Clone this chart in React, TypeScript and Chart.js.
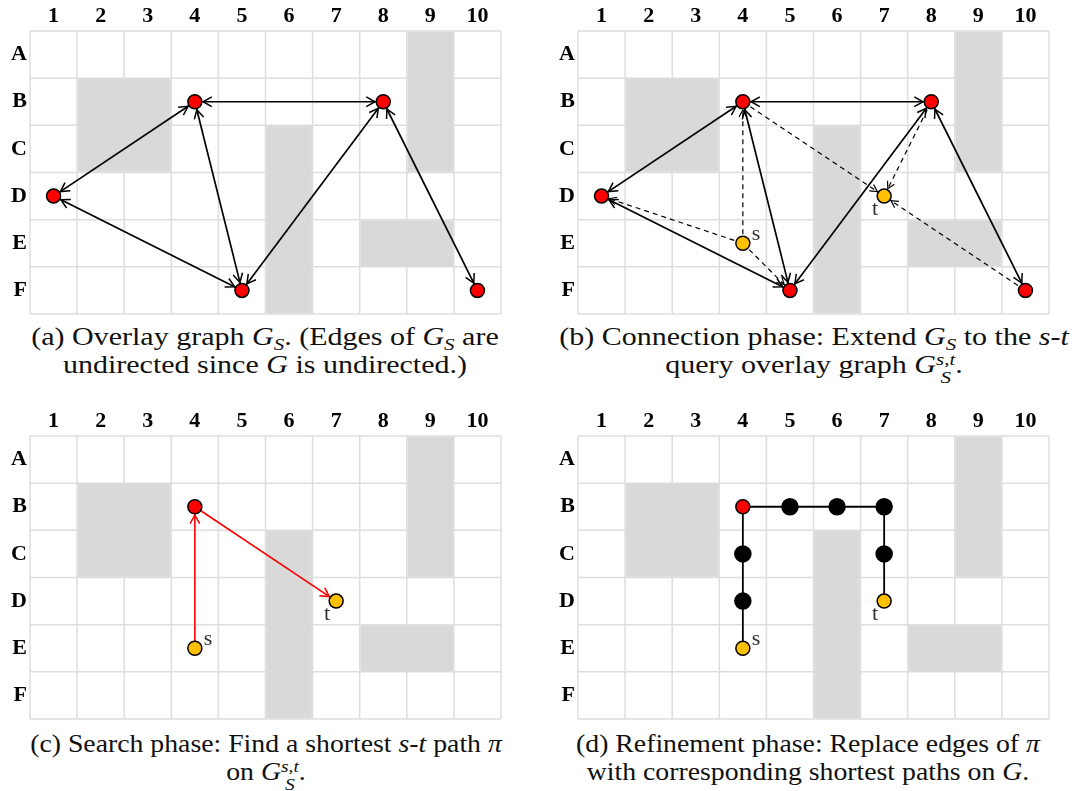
import React, { useEffect, useRef } from 'react';
import { Chart, registerables } from 'chart.js';

Chart.register(...registerables);

// Grid labels
const colLabels = ['1', '2', '3', '4', '5', '6', '7', '8', '9', '10'];
const rowLabels = ['A', 'B', 'C', 'D', 'E', 'F'];

// Blocked cells, as inclusive ranges "from:to"
const obstacleRanges = ['B2:C3', 'C6:F6', 'A9:C9', 'E8:E9'];

// Overlay graph G_S
const overlayNodes = ['B4', 'B8', 'D1', 'F5', 'F10'];
const overlayEdges = [
  ['D1', 'B4'],
  ['B4', 'B8'],
  ['B4', 'F5'],
  ['D1', 'F5'],
  ['F5', 'B8'],
  ['B8', 'F10'],
];

// Query endpoints
const sourceCell = 'E4';
const targetCell = 'D7';

// Connection edges of the s-t query overlay graph
const connectionEdges = [
  ['E4', 'B4'],
  ['E4', 'D1'],
  ['E4', 'F5'],
  ['B4', 'D7'],
  ['B8', 'D7'],
  ['F10', 'D7'],
];

// Shortest path on the overlay graph and its refinement on the grid
const searchPath = ['E4', 'B4', 'D7'];
const refinedPath = ['E4', 'D4', 'C4', 'B4', 'B5', 'B6', 'B7', 'C7', 'D7'];

const RED = '#ff0000';
const YELLOW = '#ffc000';
const BLACK = '#000000';

const SERIF = '"Liberation Serif", "Times New Roman", Tinos, "DejaVu Serif", serif';

const GRID_W = 471;
const GRID_H = 283;
const AXIS_W = 30;
const AXIS_H = 31;
const CANVAS_W = 520;
const CANVAS_H = 320;

type Pt = { x: number; y: number };

function cell(ref: string): Pt {
  return { x: parseInt(ref.slice(1), 10), y: rowLabels.indexOf(ref[0]) + 1 };
}

type NodeSpec = { ref: string; color: string; radius: number };
type EdgeSpec = {
  from: string;
  to: string;
  color: string;
  width: number;
  dash: number[];
  heads: 'none' | 'end' | 'both';
};
type PanelSpec = { nodes: NodeSpec[]; edges: EdgeSpec[]; showST: boolean };

const overlayEdgeSpecs: EdgeSpec[] = overlayEdges.map(([a, b]) => ({
  from: a,
  to: b,
  color: BLACK,
  width: 1.7,
  dash: [],
  heads: 'both',
}));

const panelA: PanelSpec = {
  nodes: overlayNodes.map((r) => ({ ref: r, color: RED, radius: 7 })),
  edges: overlayEdgeSpecs,
  showST: false,
};

const panelB: PanelSpec = {
  nodes: [
    ...overlayNodes.map((r) => ({ ref: r, color: RED, radius: 7 })),
    { ref: sourceCell, color: YELLOW, radius: 7 },
    { ref: targetCell, color: YELLOW, radius: 7 },
  ],
  edges: [
    ...overlayEdgeSpecs,
    ...connectionEdges.map(([a, b]) => ({
      from: a,
      to: b,
      color: BLACK,
      width: 1.2,
      dash: [5, 4],
      heads: 'end' as const,
    })),
  ],
  showST: true,
};

const panelC: PanelSpec = {
  nodes: searchPath.map((r) => ({
    ref: r,
    color: r === sourceCell || r === targetCell ? YELLOW : RED,
    radius: 7,
  })),
  edges: searchPath.slice(1).map((r, i) => ({
    from: searchPath[i],
    to: r,
    color: RED,
    width: 1.6,
    dash: [],
    heads: 'end' as const,
  })),
  showST: true,
};

const panelD: PanelSpec = {
  nodes: refinedPath.map((r) => ({
    ref: r,
    color:
      r === sourceCell || r === targetCell ? YELLOW : overlayNodes.includes(r) ? RED : BLACK,
    radius: r === sourceCell || r === targetCell || overlayNodes.includes(r) ? 7 : 8,
  })),
  edges: refinedPath.slice(1).map((r, i) => ({
    from: refinedPath[i],
    to: r,
    color: BLACK,
    width: 1.8,
    dash: [],
    heads: 'none' as const,
  })),
  showST: true,
};

function drawHead(
  ctx: CanvasRenderingContext2D,
  fx: number,
  fy: number,
  tx: number,
  ty: number,
  gap: number,
  len: number
) {
  const ang = Math.atan2(ty - fy, tx - fx);
  const px = tx - Math.cos(ang) * gap;
  const py = ty - Math.sin(ang) * gap;
  const spread = 0.5;
  ctx.beginPath();
  ctx.moveTo(px - len * Math.cos(ang - spread), py - len * Math.sin(ang - spread));
  ctx.lineTo(px, py);
  ctx.lineTo(px - len * Math.cos(ang + spread), py - len * Math.sin(ang + spread));
  ctx.stroke();
}

const gridPlugin = {
  id: 'cellGrid',
  beforeDatasetsDraw(chart: any) {
    const { ctx } = chart;
    const xs = chart.scales.x;
    const ys = chart.scales.y;
    ctx.save();
    // grid lines on cell boundaries
    ctx.strokeStyle = '#dedede';
    ctx.lineWidth = 1.5;
    for (let i = 0; i <= colLabels.length; i++) {
      const px = xs.getPixelForValue(i + 0.5);
      ctx.beginPath();
      ctx.moveTo(px, ys.getPixelForValue(0.5));
      ctx.lineTo(px, ys.getPixelForValue(rowLabels.length + 0.5));
      ctx.stroke();
    }
    for (let j = 0; j <= rowLabels.length; j++) {
      const py = ys.getPixelForValue(j + 0.5);
      ctx.beginPath();
      ctx.moveTo(xs.getPixelForValue(0.5), py);
      ctx.lineTo(xs.getPixelForValue(colLabels.length + 0.5), py);
      ctx.stroke();
    }
    // obstacles
    ctx.fillStyle = '#d9d9d9';
    obstacleRanges.forEach((range) => {
      const [a, b] = range.split(':').map(cell);
      const x0 = xs.getPixelForValue(Math.min(a.x, b.x) - 0.5);
      const x1 = xs.getPixelForValue(Math.max(a.x, b.x) + 0.5);
      const y0 = ys.getPixelForValue(Math.min(a.y, b.y) - 0.5);
      const y1 = ys.getPixelForValue(Math.max(a.y, b.y) + 0.5);
      ctx.fillRect(x0 + 0.75, y0 + 0.75, x1 - x0 - 1.5, y1 - y0 - 1.5);
    });
    ctx.restore();
  },
  afterDatasetsDraw(chart: any) {
    const { ctx } = chart;
    ctx.save();
    ctx.setLineDash([]);
    ctx.lineJoin = 'miter';
    chart.data.datasets.forEach((ds: any, i: number) => {
      if (!ds.heads || ds.heads === 'none') return;
      const meta = chart.getDatasetMeta(i);
      const p0 = meta.data[0];
      const p1 = meta.data[1];
      const dashed = ds.borderDash && ds.borderDash.length;
      ctx.strokeStyle = ds.borderColor;
      ctx.lineWidth = dashed ? 1.2 : 1.5;
      const len = dashed ? 8 : 10;
      drawHead(ctx, p0.x, p0.y, p1.x, p1.y, 8.2, len);
      if (ds.heads === 'both') drawHead(ctx, p1.x, p1.y, p0.x, p0.y, 8.2, len);
    });
    // s / t labels
    const spec: PanelSpec = chart.options.plugins.cellGrid.spec;
    if (spec.showST) {
      const xs = chart.scales.x;
      const ys = chart.scales.y;
      ctx.fillStyle = '#333';
      ctx.font = '22px ' + SERIF;
      ctx.textBaseline = 'alphabetic';
      const s = cell(sourceCell);
      ctx.textAlign = 'left';
      ctx.fillText('s', xs.getPixelForValue(s.x) + 9, ys.getPixelForValue(s.y) - 3);
      const t = cell(targetCell);
      ctx.textAlign = 'right';
      ctx.fillText('t', xs.getPixelForValue(t.x) - 6, ys.getPixelForValue(t.y) + 19);
    }
    ctx.restore();
  },
};

function buildConfig(spec: PanelSpec): any {
  const nodePts = spec.nodes.map((n) => cell(n.ref));
  const datasets: any[] = [
    {
      type: 'scatter',
      data: nodePts,
      pointRadius: spec.nodes.map((n) => n.radius),
      pointBackgroundColor: spec.nodes.map((n) => n.color),
      pointBorderColor: '#000',
      pointBorderWidth: 1.5,
      showLine: false,
      order: 0,
    },
    ...spec.edges.map((e) => ({
      type: 'scatter',
      data: [cell(e.from), cell(e.to)],
      showLine: true,
      borderColor: e.color,
      borderWidth: e.width,
      borderDash: e.dash,
      borderCapStyle: 'butt',
      pointRadius: 0,
      fill: false,
      order: 1,
      heads: e.heads,
    })),
  ];
  const tickFont = { family: SERIF, size: 22, weight: 'bold' as const };
  return {
    type: 'scatter',
    data: { datasets },
    options: {
      animation: false,
      responsive: false,
      devicePixelRatio: 1,
      events: [],
      layout: {
        autoPadding: false,
        padding: {
          left: 0,
          top: 0,
          right: CANVAS_W - AXIS_W - GRID_W,
          bottom: CANVAS_H - AXIS_H - GRID_H,
        },
      },
      plugins: {
        legend: { display: false },
        tooltip: { enabled: false },
        cellGrid: { spec },
      },
      scales: {
        x: {
          type: 'linear',
          position: 'top',
          min: 0.5,
          max: colLabels.length + 0.5,
          afterBuildTicks: (s: any) => {
            s.ticks = colLabels.map((_, i) => ({ value: i + 1 }));
          },
          afterFit: (s: any) => {
            s.height = AXIS_H;
            s.paddingLeft = 0;
            s.paddingRight = 0;
            s.paddingTop = 0;
            s.paddingBottom = 0;
          },
          ticks: {
            callback: (_v: any, i: number) => colLabels[i],
            font: tickFont,
            color: '#000',
            padding: 1,
            autoSkip: false,
            maxRotation: 0,
          },
          grid: { display: false, drawTicks: false },
          border: { display: false },
        },
        y: {
          type: 'linear',
          reverse: true,
          min: 0.5,
          max: rowLabels.length + 0.5,
          afterBuildTicks: (s: any) => {
            s.ticks = rowLabels.map((_, i) => ({ value: i + 1 }));
          },
          afterFit: (s: any) => {
            s.width = AXIS_W;
            s.paddingLeft = 0;
            s.paddingRight = 0;
            s.paddingTop = 0;
            s.paddingBottom = 0;
          },
          ticks: {
            callback: (_v: any, i: number) => rowLabels[i],
            font: tickFont,
            color: '#000',
            padding: 3,
            autoSkip: false,
          },
          grid: { display: false, drawTicks: false },
          border: { display: false },
        },
      },
    },
    plugins: [gridPlugin],
  };
}

function Panel({ spec, left, top }: { spec: PanelSpec; left: number; top: number }) {
  const ref = useRef<HTMLCanvasElement>(null);
  useEffect(() => {
    const chart = new Chart(ref.current as HTMLCanvasElement, buildConfig(spec));
    return () => chart.destroy();
  }, [spec]);
  return (
    <canvas
      ref={ref}
      width={CANVAS_W}
      height={CANVAS_H}
      style={{ position: 'absolute', left, top, width: CANVAS_W, height: CANVAS_H }}
    />
  );
}

const mathStyle: React.CSSProperties = { fontStyle: 'italic' };

function GS() {
  return (
    <span style={{ whiteSpace: 'nowrap' }}>
      <span style={mathStyle}>G</span>
      <span style={{ ...mathStyle, fontSize: '0.7em', position: 'relative', top: '0.3em' }}>S</span>
    </span>
  );
}

function GSst() {
  return (
    <span style={{ whiteSpace: 'nowrap' }}>
      <span style={mathStyle}>G</span>
      <span
        style={{
          display: 'inline-flex',
          flexDirection: 'column',
          fontSize: '0.7em',
          lineHeight: 1,
          verticalAlign: '0.45em',
          fontStyle: 'italic',
        }}
      >
        <span>s,t</span>
        <span>S</span>
      </span>
    </span>
  );
}

function Caption({
  cx,
  top,
  stretch,
  lines,
}: {
  cx: number;
  top: number;
  stretch: number;
  lines: React.ReactNode[];
}) {
  return (
    <div
      style={{
        position: 'absolute',
        left: cx - 300,
        top,
        width: 600,
        textAlign: 'center',
        fontFamily: SERIF,
        fontSize: 25,
        lineHeight: '28px',
        color: '#111',
        transform: `scaleX(${stretch})`,
        transformOrigin: '50% 50%',
      }}
    >
      {lines.map((l, i) => (
        <div key={i} style={{ whiteSpace: 'nowrap', height: 28 }}>
          {l}
        </div>
      ))}
    </div>
  );
}

export default function App() {
  return (
    <div
      style={{
        position: 'absolute',
        left: 0,
        top: 0,
        width: 1079,
        height: 791,
        background: '#fff',
        overflow: 'hidden',
      }}
    >
      <Panel spec={panelA} left={0} top={0} />
      <Panel spec={panelB} left={548} top={0} />
      <Panel spec={panelC} left={0} top={405} />
      <Panel spec={panelD} left={548} top={405} />
      <Caption
        cx={265}
        top={323}
        stretch={1.2}
        lines={[
          <>
            (a) Overlay graph <GS />. (Edges of <GS /> are
          </>,
          <>
            undirected since <i>G</i> is undirected.)
          </>,
        ]}
      />
      <Caption
        cx={814}
        top={323}
        stretch={1.2}
        lines={[
          <>
            (b) Connection phase: Extend <GS /> to the <i>s</i>-<i>t</i>
          </>,
          <>
            query overlay graph <GSst />.
          </>,
        ]}
      />
      <Caption
        cx={266}
        top={730}
        stretch={1.11}
        lines={[
          <>
            (c) Search phase: Find a shortest <i>s</i>-<i>t</i> path <i>π</i>
          </>,
          <>
            on <GSst />.
          </>,
        ]}
      />
      <Caption
        cx={808}
        top={730}
        stretch={1.11}
        lines={[
          <>
            (d) Refinement phase: Replace edges of <i>π</i>
          </>,
          <>
            with corresponding shortest paths on <i>G</i>.
          </>,
        ]}
      />
    </div>
  );
}
